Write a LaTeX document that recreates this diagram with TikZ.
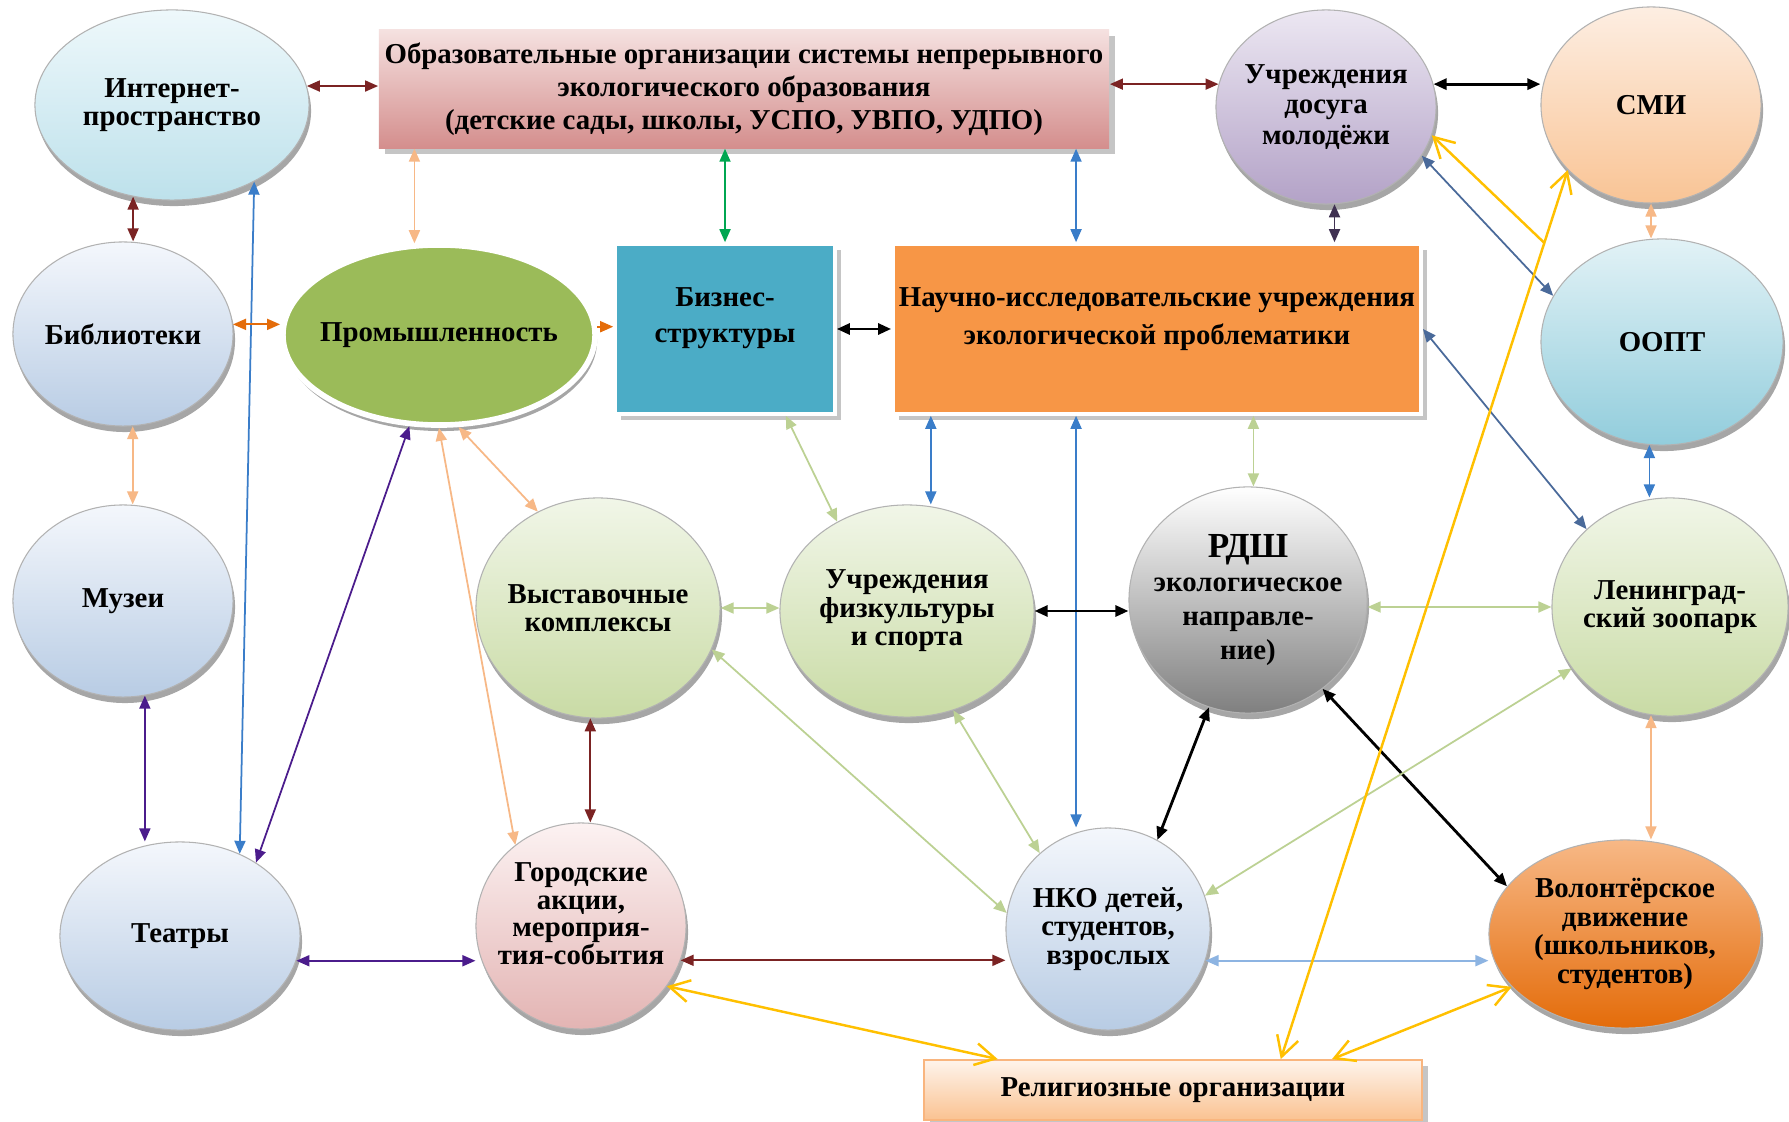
\documentclass[tikz,border=0pt]{standalone}
\usepackage{fontspec}
\setmainfont{Liberation Serif}
\usetikzlibrary{shapes.geometric,arrows.meta,shadows,calc}

\definecolor{wine}{HTML}{7B2323}
\definecolor{apricot}{HTML}{F7B886}
\definecolor{jade}{HTML}{00A651}
\definecolor{azure}{HTML}{3A7DC9}
\definecolor{slate}{HTML}{4A6A9A}
\definecolor{plum}{HTML}{403152}
\definecolor{rust}{HTML}{E46C0A}
\definecolor{grape}{HTML}{4B1C8C}
\definecolor{sage}{HTML}{BCD193}
\definecolor{mist}{HTML}{8DB4E2}
\definecolor{amber}{HTML}{FFC000}
\definecolor{inettop}{HTML}{EEF8FB}
\definecolor{inetbot}{HTML}{BDE1EB}
\definecolor{steeltop}{HTML}{F4F7FC}
\definecolor{steelbot}{HTML}{B8CCE4}
\definecolor{lilactop}{HTML}{ECE7F2}
\definecolor{lilacbot}{HTML}{B3A2C7}
\definecolor{peachtop}{HTML}{FDEEE2}
\definecolor{peachbot}{HTML}{F9C495}
\definecolor{leaf}{HTML}{9BBB59}
\definecolor{lagoon}{HTML}{4BACC6}
\definecolor{tangerine}{HTML}{F79646}
\definecolor{aquatop}{HTML}{E2F2F6}
\definecolor{aquabot}{HTML}{92CDDC}
\definecolor{mosstop}{HTML}{F1F6E8}
\definecolor{mossbot}{HTML}{C9DBA5}
\definecolor{rosetop}{HTML}{FCF2F2}
\definecolor{rosebot}{HTML}{E3B4B3}
\definecolor{obrtop}{HTML}{F5E1E0}
\definecolor{obrbot}{HTML}{D48E8D}
\definecolor{religtop}{HTML}{FEF4EC}
\definecolor{religbot}{HTML}{FAC291}

\begin{document}
\begin{tikzpicture}[x=0.01cm,y=-0.01cm,
    font={\bfseries\fontsize{8.2}{8.1}\selectfont},
    oval/.style={ellipse,draw=gray!60,line width=0.3pt,inner sep=-1.5mm,align=center,
      drop shadow={shadow xshift=0.2mm,shadow yshift=-0.6mm,opacity=0.35,fill=black}},
    plate/.style={rectangle,inner sep=0pt,align=center,font={\bfseries\fontsize{8.2}{9.4}\selectfont},
      drop shadow={shadow xshift=0.6mm,shadow yshift=-0.6mm,opacity=0.45,fill=gray}},
    link/.style={line width=0.5pt,{Triangle[length=1.3mm,width=1.1mm]}-{Triangle[length=1.3mm,width=1.1mm]}},
    bold link/.style={link,line width=0.8pt},
    faith/.style={draw=amber,line width=0.7pt,{Straight Barb[length=2mm,width=2.2mm]}-{Straight Barb[length=2mm,width=2.2mm]}}]
  \path[use as bounding box,fill=white] (0,0) rectangle (1789,1122);

  \node[oval,minimum width=2.74cm,minimum height=1.9cm,top color=inettop,bottom color=inetbot] (inet) at (172,105) {Интернет-\\пространство};
  \node[plate,minimum width=7.3cm,minimum height=1.18cm,top color=obrtop,bottom color=obrbot] (obr) at (744,89) {Образовательные организации системы непрерывного\\экологического образования\\(детские сады, школы, УСПО, УВПО, УДПО)};
  \node[oval,minimum width=2.2cm,minimum height=1.94cm,top color=lilactop,bottom color=lilacbot,font={\bfseries\fontsize{8.2}{8.6}\selectfont}] (dosug) at (1326,107) {Учреждения\\досуга\\молодёжи};
  \node[oval,minimum width=2.2cm,minimum height=1.96cm,top color=peachtop,bottom color=peachbot] (smi) at (1651,105) {СМИ};
  \node[oval,minimum width=2.2cm,minimum height=1.84cm,top color=steeltop,bottom color=steelbot] (bibl) at (123,334) {Библиотеки};
  \node[oval,minimum width=3.12cm,minimum height=1.8cm,fill=leaf,draw=white,line width=1.6pt] (prom) at (439,335) {Промышленность};
  \node[plate,minimum width=2.2cm,minimum height=1.7cm,fill=lagoon,draw=white,line width=1pt,text depth=8pt] (biz) at (725,329) {Бизнес-\\[1pt]структуры};
  \node[plate,minimum width=5.28cm,minimum height=1.7cm,fill=tangerine,draw=white,line width=1pt,text depth=7.5pt] (nauch) at (1157,329) {Научно-исследовательские учреждения\\[1.3pt]экологической проблематики};
  \node[oval,minimum width=2.42cm,minimum height=2.06cm,top color=aquatop,bottom color=aquabot] (oopt) at (1662,342) {ООПТ};
  \node[oval,minimum width=2.2cm,minimum height=1.92cm,top color=steeltop,bottom color=steelbot] (muz) at (123,601) {Музеи};
  \node[oval,minimum width=2.44cm,minimum height=2.2cm,top color=mosstop,bottom color=mossbot] (vyst) at (598,608) {Выставочные\\комплексы};
  \node[oval,minimum width=2.54cm,minimum height=2.12cm,top color=mosstop,bottom color=mossbot] (fizk) at (907,611) {Учреждения\\физкультуры\\и спорта};
  \node[oval,minimum width=2.38cm,minimum height=2.26cm,top color=white,bottom color=gray,font={\bfseries\fontsize{8.2}{9.6}\selectfont}] (rdsh) at (1248,600) {{\fontsize{10}{10}\selectfont РДШ}\\экологическое\\направле-\\ние)};
  \node[oval,minimum width=2.36cm,minimum height=2.18cm,top color=mosstop,bottom color=mossbot] (zoo) at (1670,607) {Ленинград-\\ский зоопарк};
  \node[oval,minimum width=2.4cm,minimum height=1.88cm,top color=steeltop,bottom color=steelbot] (teatr) at (180,936) {Театры};
  \node[oval,minimum width=2.1cm,minimum height=2.06cm,top color=rosetop,bottom color=rosebot,font={\bfseries\fontsize{8.2}{7.8}\selectfont},text depth=7pt] (gorod) at (581,926) {Городские\\акции,\\мероприя-\\тия-события};
  \node[oval,minimum width=2.04cm,minimum height=2.02cm,top color=steeltop,bottom color=steelbot] (nko) at (1108,929) {НКО детей,\\студентов,\\взрослых};
  \node[oval,minimum width=2.72cm,minimum height=1.88cm,top color=apricot,middle color=tangerine,bottom color=rust] (volont) at (1625,934) {Волонтёрское\\движение\\(школьников,\\студентов)};
  \node[plate,minimum width=4.97cm,minimum height=0.6cm,top color=religtop,bottom color=religbot,draw=tangerine!70,line width=0.5pt] (relig) at (1173,1090) {Религиозные организации};

  \draw[link,wine] (inet.8) -- (inet.8 -| obr.west);
  \draw[link,wine] (obr.east |- dosug.168) -- (dosug.168);
  \draw[bold link,black] (dosug.12) -- (dosug.12 -| smi.west);
  \draw[link,wine] (inet.247) -- (inet.247 |- bibl.north);
  \draw[link,apricot] (prom.105) -- (prom.105 |- obr.south);
  \draw[link,jade] (biz.north) -- (biz.north |- obr.south);
  \draw[link,azure] (nauch.133) -- (nauch.133 |- obr.south);
  \draw[link,plum] (dosug.275) -- (dosug.275 |- nauch.north);
  \draw[link,apricot] (smi.south) -- (smi.south |- oopt.north);
  \draw[link,slate] (dosug.333) -- (oopt.157);
  \draw[link,slate] (nauch.east) -- (zoo.137);
  \draw[link,azure] (oopt.263) -- (oopt.263 |- zoo.north);
  \draw[link,azure] (inet.317) -- (teatr.54);
  \draw[link,rust] (bibl.5) -- (bibl.5 -| prom.west);
  \draw[rust,line width=0.5pt,-{Triangle[length=1.3mm,width=1.1mm]}] (prom.3) -- (prom.3 -| biz.west);
  \draw[bold link,black] (biz.east) -- (nauch.west);
  \draw[link,apricot] (bibl.276) -- (bibl.276 |- muz.north);
  \draw[link,grape] (muz.283) -- (muz.283 |- teatr.north);
  \draw[link,grape] (prom.252) -- (teatr.44);
  \draw[link,apricot] (prom.282) -- (vyst.122);
  \draw[link,apricot] (prom.south) -- (gorod.129);
  \draw[link,sage] (biz.305) -- (fizk.128);
  \draw[link,azure] (nauch.201) -- (nauch.201 |- fizk.north);
  \draw[link,azure] (nauch.227) -- (nauch.227 |- nko.north);
  \draw[link,sage] (nauch.318) -- (nauch.318 |- rdsh.north);
  \draw[link,sage] (vyst.east) -- (vyst.east -| fizk.west);
  \draw[bold link,black] (fizk.east) -- (fizk.east -| rdsh.west);
  \draw[link,sage] (rdsh.east |- zoo.west) -- (zoo.west);
  \draw[link,wine] (vyst.266) -- (vyst.266 |- gorod.north);
  \draw[link,sage] (vyst.340) -- (nko.171);
  \draw[link,sage] (fizk.295) -- (nko.132);
  \draw[bold link,black] (rdsh.250) -- (nko.61);
  \draw[bold link,black] (rdsh.310) -- (volont.158);
  \draw[link,sage] (zoo.212) -- (nko.19);
  \draw[link,apricot] (zoo.260) -- (zoo.260 |- volont.north);
  \draw[link,grape] (teatr.348) -- (teatr.348 -| gorod.west);
  \draw[link,wine] (gorod.341) -- (gorod.341 -| nko.west);
  \draw[link,mist] (nko.342) -- (nko.342 -| volont.west);
  \draw[faith] (relig.170) -- (gorod.325);
  \draw[faith] (relig.11) -- (volont.205);
  \draw[faith] (relig.16) -- (smi.218);
  \coordinate (fork) at ($(relig.16)!.918!(smi.218)$);
  \draw[faith,-{Straight Barb[length=2mm,width=2.2mm]}] (fork) -- (dosug.345);
\end{tikzpicture}
\end{document}
